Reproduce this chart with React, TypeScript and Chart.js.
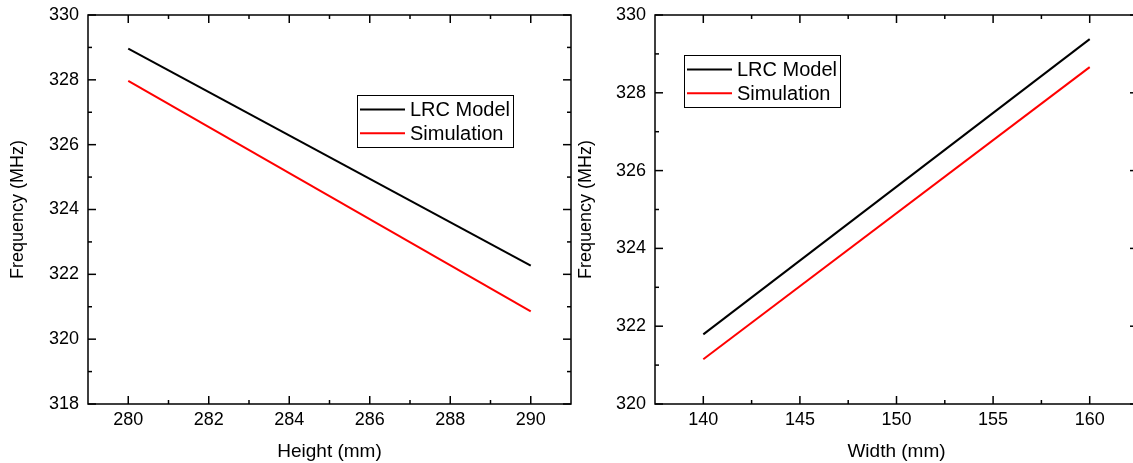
import React, { useEffect, useRef } from "react";
import { Chart, registerables } from "chart.js";

Chart.register(...registerables);

// ---- Data ----
const seriesLabels = ["LRC Model", "Simulation"];
const seriesColors = ["#000000", "#ff0000"];

const heightMm = [280, 290];
const heightLrc = [328.96, 322.27];
const heightSim = [327.97, 320.86];

const widthMm = [140, 160];
const widthLrc = [321.79, 329.38];
const widthSim = [321.15, 328.66];

const heightTicks = [280, 282, 284, 286, 288, 290];
const heightMinorTicks = [281, 283, 285, 287, 289];
const leftFreqTicks = [318, 320, 322, 324, 326, 328, 330];
const leftFreqMinorTicks = [319, 321, 323, 325, 327, 329];

const widthTicks = [140, 145, 150, 155, 160];
const widthMinorTicks = [142.5, 147.5, 152.5, 157.5];
const rightFreqTicks = [320, 322, 324, 326, 328, 330];
const rightFreqMinorTicks = [321, 323, 325, 327, 329];

const FONT = "'Liberation Sans', Arial, Helvetica, sans-serif";

const framePlugin = {
  id: "frameTicks",
  afterDatasetsDraw(chart: any, _args: any, opts: any) {
    const { ctx, chartArea: a, scales } = chart;
    const xs = scales.x;
    const ys = scales.y;
    ctx.save();
    ctx.strokeStyle = "#000";
    ctx.lineWidth = 1.5;
    ctx.beginPath();
    ctx.rect(a.left, a.top, a.right - a.left, a.bottom - a.top);
    ctx.stroke();
    const seg = (x1: number, y1: number, x2: number, y2: number) => {
      ctx.beginPath();
      ctx.moveTo(x1, y1);
      ctx.lineTo(x2, y2);
      ctx.stroke();
    };
    const xt = (vals: number[], len: number) =>
      vals.forEach((v) => {
        const p = xs.getPixelForValue(v);
        seg(p, a.bottom, p, a.bottom - len);
        seg(p, a.top, p, a.top + len);
      });
    const yt = (vals: number[], len: number) =>
      vals.forEach((v) => {
        const p = ys.getPixelForValue(v);
        seg(a.left, p, a.left + len, p);
        seg(a.right, p, a.right - len, p);
      });
    xt(opts.xMajor, 8);
    xt(opts.xMinor, 4);
    yt(opts.yMajor, 8);
    yt(opts.yMinor, 4);
    ctx.restore();
  },
};

const boxLegendPlugin = {
  id: "boxLegend",
  afterDraw(chart: any, _args: any, opts: any) {
    const { ctx, chartArea: a } = chart;
    const bx = a.left + opts.dx;
    const by = a.top + opts.dy;
    const bw = 156;
    const bh = 52;
    ctx.save();
    ctx.fillStyle = "#fff";
    ctx.fillRect(bx, by, bw, bh);
    ctx.strokeStyle = "#000";
    ctx.lineWidth = 1;
    ctx.strokeRect(bx + 0.5, by + 0.5, bw, bh);
    ctx.font = `20px ${FONT}`;
    ctx.textBaseline = "middle";
    ctx.textAlign = "left";
    chart.data.datasets.forEach((ds: any, i: number) => {
      const ly = by + 14.5 + i * 23.7;
      ctx.strokeStyle = ds.borderColor;
      ctx.lineWidth = 2;
      ctx.beginPath();
      ctx.moveTo(bx + 3, ly);
      ctx.lineTo(bx + 48, ly);
      ctx.stroke();
      ctx.fillStyle = "#000";
      ctx.fillText(ds.label, bx + 53, ly + 1);
    });
    ctx.restore();
  },
};

function makeConfig(p: {
  xs: number[];
  ys: number[][];
  xMin: number;
  xMax: number;
  yMin: number;
  yMax: number;
  xTicks: number[];
  xMinor: number[];
  yTicks: number[];
  yMinor: number[];
  xTitle: string;
  yAxisWidth: number;
  yTitlePad: number;
  legendDx: number;
  legendDy: number;
}): any {
  return {
    type: "line",
    data: {
      datasets: p.ys.map((vals, i) => ({
        label: seriesLabels[i],
        data: p.xs.map((x, j) => ({ x, y: vals[j] })),
        borderColor: seriesColors[i],
        backgroundColor: seriesColors[i],
        borderWidth: 2,
        pointRadius: 0,
        tension: 0,
        fill: false,
      })),
    },
    options: {
      animation: false,
      responsive: false,
      maintainAspectRatio: false,
      layout: { padding: { left: 0, top: 15, right: 9, bottom: 0 } },
      plugins: {
        legend: { display: false },
        tooltip: { enabled: false },
        frameTicks: {
          xMajor: p.xTicks,
          xMinor: p.xMinor,
          yMajor: p.yTicks,
          yMinor: p.yMinor,
        },
        boxLegend: { dx: p.legendDx, dy: p.legendDy },
      },
      scales: {
        x: {
          type: "linear",
          min: p.xMin,
          max: p.xMax,
          afterBuildTicks: (s: any) => {
            s.ticks = p.xTicks.map((v) => ({ value: v }));
          },
          afterFit: (s: any) => {
            s.height = 59;
            s.paddingLeft = 0;
            s.paddingRight = 0;
          },
          grid: { display: false, drawTicks: false },
          border: { display: false },
          ticks: {
            padding: 5,
            color: "#000",
            maxRotation: 0,
            autoSkip: false,
            font: { family: FONT, size: 18 },
            callback: (v: any) => String(v),
          },
          title: {
            display: true,
            text: p.xTitle,
            color: "#000",
            font: { family: FONT, size: 19 },
            padding: { top: 0, bottom: 0 },
          },
        },
        y: {
          type: "linear",
          min: p.yMin,
          max: p.yMax,
          afterBuildTicks: (s: any) => {
            s.ticks = p.yTicks.map((v) => ({ value: v }));
          },
          afterFit: (s: any) => {
            s.width = p.yAxisWidth;
            s.paddingTop = 0;
            s.paddingBottom = 0;
          },
          grid: { display: false, drawTicks: false },
          border: { display: false },
          ticks: {
            padding: 9,
            color: "#000",
            autoSkip: false,
            font: { family: FONT, size: 18 },
            callback: (v: any) => String(v),
          },
          title: {
            display: true,
            text: "Frequency (MHz)",
            color: "#000",
            font: { family: FONT, size: 18 },
            padding: { top: p.yTitlePad, bottom: 0 },
          },
        },
      },
    },
    plugins: [framePlugin, boxLegendPlugin],
  };
}

export default function App() {
  const leftRef = useRef<HTMLCanvasElement | null>(null);
  const rightRef = useRef<HTMLCanvasElement | null>(null);

  useEffect(() => {
    const left = new Chart(
      leftRef.current as HTMLCanvasElement,
      makeConfig({
        xs: heightMm,
        ys: [heightLrc, heightSim],
        xMin: 279,
        xMax: 291,
        yMin: 318,
        yMax: 330,
        xTicks: heightTicks,
        xMinor: heightMinorTicks,
        yTicks: leftFreqTicks,
        yMinor: leftFreqMinorTicks,
        xTitle: "Height (mm)",
        yAxisWidth: 88,
        yTitlePad: 7,
        legendDx: 269,
        legendDy: 80,
      })
    );
    const right = new Chart(
      rightRef.current as HTMLCanvasElement,
      makeConfig({
        xs: widthMm,
        ys: [widthLrc, widthSim],
        xMin: 137.5,
        xMax: 162.5,
        yMin: 320,
        yMax: 330,
        xTicks: widthTicks,
        xMinor: widthMinorTicks,
        yTicks: rightFreqTicks,
        yMinor: rightFreqMinorTicks,
        xTitle: "Width (mm)",
        yAxisWidth: 85,
        yTitlePad: 5,
        legendDx: 29,
        legendDy: 40,
      })
    );
    return () => {
      left.destroy();
      right.destroy();
    };
  }, []);

  return (
    <div
      style={{
        position: "absolute",
        left: 0,
        top: 0,
        width: 1133,
        height: 463,
        overflow: "hidden",
        background: "#fff",
      }}
    >
      <canvas
        ref={leftRef}
        width={580}
        height={463}
        style={{ position: "absolute", left: 0, top: 0, width: 580, height: 463 }}
      />
      <canvas
        ref={rightRef}
        width={577}
        height={463}
        style={{ position: "absolute", left: 570, top: 0, width: 577, height: 463 }}
      />
    </div>
  );
}
